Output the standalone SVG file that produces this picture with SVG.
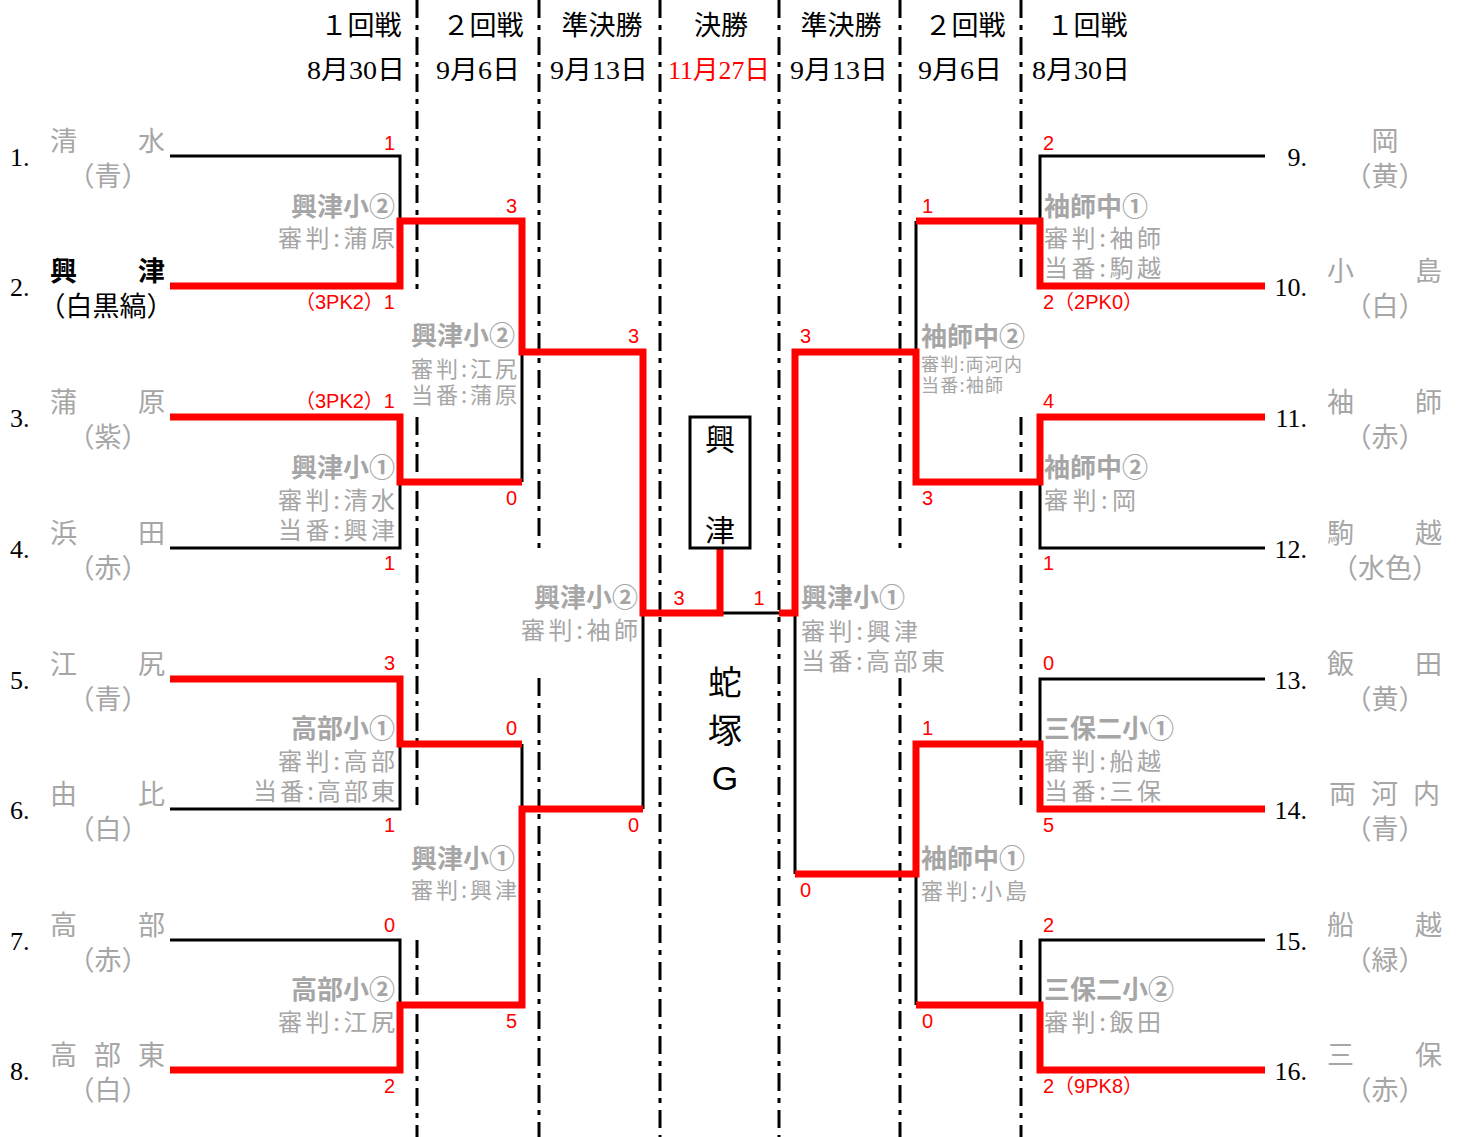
<svg xmlns="http://www.w3.org/2000/svg" width="1459" height="1137" viewBox="0 0 1459 1137">
<style>
.blk{stroke:#000;stroke-width:3;fill:none}
.red{stroke:#f00;stroke-width:7;fill:none;stroke-linejoin:miter}
.dash{stroke:#000;stroke-width:3;stroke-dasharray:18 7 5 7}
.sc{font-family:"Liberation Sans","Noto Sans CJK JP",sans-serif;font-size:20px;fill:#f00}
.nm{font-family:"Noto Sans CJK JP",sans-serif;font-size:27px;fill:#a6a6a6}
.nmb{font-family:"Noto Sans CJK JP",sans-serif;font-size:27px;fill:#000;font-weight:bold}
.pc{font-family:"Noto Sans CJK JP",sans-serif;font-size:27px;fill:#a6a6a6}
.pcb{font-family:"Noto Sans CJK JP",sans-serif;font-size:27px;fill:#000}
.num{font-family:"Liberation Serif",serif;font-size:26px;fill:#000}
.hd{font-family:"Noto Sans CJK JP",sans-serif;font-size:26px;font-weight:bold;fill:#a6a6a6}
.b1{font-family:"Noto Sans CJK JP",sans-serif;font-size:24px;fill:#a6a6a6}
.b2{font-family:"Noto Sans CJK JP",sans-serif;font-size:22px;fill:#a6a6a6}
.b3{font-family:"Noto Sans CJK JP",sans-serif;font-size:18px;fill:#a6a6a6}
.h1{font-family:"Liberation Serif","Noto Sans CJK JP",serif;font-size:27px;fill:#000}
.h2{font-family:"Liberation Serif","Noto Sans CJK JP",serif;font-size:26px;fill:#000}
.ctr{font-family:"Liberation Sans","Noto Sans CJK JP",sans-serif;font-size:34px;fill:#000}
.bx{font-family:"Noto Sans CJK JP",sans-serif;font-size:30px;fill:#000}
</style>
<rect x="0" y="0" width="1459" height="1137" fill="#fff"/>

<g id="grid">
<line class="dash" x1="417" y1="0" x2="417" y2="290"/>
<line class="dash" x1="417" y1="417" x2="417" y2="808"/>
<line class="dash" x1="417" y1="940" x2="417" y2="1137"/>
<line class="dash" x1="539" y1="0" x2="539" y2="550"/>
<line class="dash" x1="539" y1="678" x2="539" y2="1137"/>
<line class="dash" x1="660" y1="0" x2="660" y2="1137"/>
<line class="dash" x1="779" y1="0" x2="779" y2="1137"/>
<line class="dash" x1="900" y1="0" x2="900" y2="550"/>
<line class="dash" x1="900" y1="678" x2="900" y2="1137"/>
<line class="dash" x1="1021" y1="0" x2="1021" y2="280"/>
<line class="dash" x1="1021" y1="417" x2="1021" y2="808"/>
<line class="dash" x1="1021" y1="940" x2="1021" y2="1137"/>
</g>

<g id="header">
<text class="h1" x="361" y="35" text-anchor="middle">１回戦</text>
<text class="h1" x="483" y="35" text-anchor="middle">２回戦</text>
<text class="h1" x="602" y="35" text-anchor="middle">準決勝</text>
<text class="h1" x="721" y="35" text-anchor="middle">決勝</text>
<text class="h1" x="841" y="35" text-anchor="middle">準決勝</text>
<text class="h1" x="965" y="35" text-anchor="middle">２回戦</text>
<text class="h1" x="1087" y="35" text-anchor="middle">１回戦</text>
<text class="h2" x="356" y="79" text-anchor="middle" textLength="98" lengthAdjust="spacingAndGlyphs">8月30日</text>
<text class="h2" x="478" y="79" text-anchor="middle" textLength="84" lengthAdjust="spacingAndGlyphs">9月6日</text>
<text class="h2" x="599" y="79" text-anchor="middle" textLength="98" lengthAdjust="spacingAndGlyphs">9月13日</text>
<text class="h2" x="719" y="79" text-anchor="middle" textLength="102" lengthAdjust="spacingAndGlyphs" style="fill:#f00">11月27日</text>
<text class="h2" x="839" y="79" text-anchor="middle" textLength="98" lengthAdjust="spacingAndGlyphs">9月13日</text>
<text class="h2" x="960" y="79" text-anchor="middle" textLength="84" lengthAdjust="spacingAndGlyphs">9月6日</text>
<text class="h2" x="1081" y="79" text-anchor="middle" textLength="98" lengthAdjust="spacingAndGlyphs">8月30日</text>
</g>

<g id="connectors">
<path class="blk" d="M170 156 H400 V221"/>
<path class="blk" d="M522 352 V482"/>
<path class="blk" d="M170 548 H400 V482"/>
<path class="blk" d="M170 809 H400 V744"/>
<path class="blk" d="M522 744 V809"/>
<path class="blk" d="M170 940 H400 V1005"/>
<path class="blk" d="M643 613 V809"/>
<path class="blk" d="M720 613 H779"/>
<path class="blk" d="M1265 156 H1040 V221"/>
<path class="blk" d="M916 221 V352"/>
<path class="blk" d="M1265 548 H1040 V482"/>
<path class="blk" d="M1265 679 H1040 V744"/>
<path class="blk" d="M795 613 V874"/>
<path class="blk" d="M916 874 V1005"/>
<path class="blk" d="M1265 940 H1040 V1005"/>
<path class="red" d="M170 286 H400 V221 H522 V352 H643 V613 H720 V548"/>
<path class="red" d="M170 417 H400 V482 H522"/>
<path class="red" d="M170 679 H400 V744 H522"/>
<path class="red" d="M170 1070 H400 V1005 H522 V809 H643"/>
<path class="red" d="M779 613 H795 V352 H916 V482 H1040 V417 H1265"/>
<path class="red" d="M916 221 H1040 V286 H1265"/>
<path class="red" d="M795 874 H916 V744 H1040 V809 H1265"/>
<path class="red" d="M916 1005 H1040 V1070 H1265"/>
</g>

<g id="scores">
<text class="sc" x="395" y="150" text-anchor="end">1</text>
<text class="sc" x="395" y="309" text-anchor="end">（3PK2）1</text>
<text class="sc" x="395" y="408" text-anchor="end">（3PK2）1</text>
<text class="sc" x="395" y="570" text-anchor="end">1</text>
<text class="sc" x="395" y="670" text-anchor="end">3</text>
<text class="sc" x="395" y="832" text-anchor="end">1</text>
<text class="sc" x="395" y="932" text-anchor="end">0</text>
<text class="sc" x="395" y="1093" text-anchor="end">2</text>
<text class="sc" x="517" y="213" text-anchor="end">3</text>
<text class="sc" x="517" y="505" text-anchor="end">0</text>
<text class="sc" x="517" y="735" text-anchor="end">0</text>
<text class="sc" x="517" y="1028" text-anchor="end">5</text>
<text class="sc" x="639" y="343" text-anchor="end">3</text>
<text class="sc" x="639" y="832" text-anchor="end">0</text>
<text class="sc" x="679" y="605" text-anchor="middle">3</text>
<text class="sc" x="759" y="605" text-anchor="middle">1</text>
<text class="sc" x="800" y="343">3</text>
<text class="sc" x="800" y="897">0</text>
<text class="sc" x="922" y="213">1</text>
<text class="sc" x="922" y="505">3</text>
<text class="sc" x="922" y="735">1</text>
<text class="sc" x="922" y="1028">0</text>
<text class="sc" x="1043" y="150">2</text>
<text class="sc" x="1043" y="309">2（2PK0）</text>
<text class="sc" x="1043" y="408">4</text>
<text class="sc" x="1043" y="570">1</text>
<text class="sc" x="1043" y="670">0</text>
<text class="sc" x="1043" y="832">5</text>
<text class="sc" x="1043" y="932">2</text>
<text class="sc" x="1043" y="1093">2（9PK8）</text>
</g>

<g id="team1"><text class="num" x="10" y="166">1.</text><text class="nm" x="50" y="151" textLength="115" lengthAdjust="spacing">清水</text><text class="pc" x="108" y="186" text-anchor="middle">（青）</text></g>
<g id="team2"><text class="num" x="10" y="296">2.</text><text class="nmb" x="50" y="281" textLength="115" lengthAdjust="spacing">興津</text><text class="pcb" x="106" y="316" text-anchor="middle">（白黒縞）</text></g>
<g id="team3"><text class="num" x="10" y="427">3.</text><text class="nm" x="50" y="412" textLength="115" lengthAdjust="spacing">蒲原</text><text class="pc" x="108" y="447" text-anchor="middle">（紫）</text></g>
<g id="team4"><text class="num" x="10" y="558">4.</text><text class="nm" x="50" y="543" textLength="115" lengthAdjust="spacing">浜田</text><text class="pc" x="108" y="578" text-anchor="middle">（赤）</text></g>
<g id="team5"><text class="num" x="10" y="689">5.</text><text class="nm" x="50" y="674" textLength="115" lengthAdjust="spacing">江尻</text><text class="pc" x="108" y="709" text-anchor="middle">（青）</text></g>
<g id="team6"><text class="num" x="10" y="819">6.</text><text class="nm" x="50" y="804" textLength="115" lengthAdjust="spacing">由比</text><text class="pc" x="108" y="839" text-anchor="middle">（白）</text></g>
<g id="team7"><text class="num" x="10" y="950">7.</text><text class="nm" x="50" y="935" textLength="115" lengthAdjust="spacing">高部</text><text class="pc" x="108" y="970" text-anchor="middle">（赤）</text></g>
<g id="team8"><text class="num" x="10" y="1080">8.</text><text class="nm" x="50" y="1065" textLength="115" lengthAdjust="spacing">高部東</text><text class="pc" x="108" y="1100" text-anchor="middle">（白）</text></g>

<g id="team9"><text class="num" x="1307" y="166" text-anchor="end">9.</text><text class="nm" x="1385" y="151" text-anchor="middle">岡</text><text class="pc" x="1385" y="186" text-anchor="middle">（黄）</text></g>
<g id="team10"><text class="num" x="1307" y="296" text-anchor="end">10.</text><text class="nm" x="1327" y="281" textLength="115" lengthAdjust="spacing">小島</text><text class="pc" x="1385" y="316" text-anchor="middle">（白）</text></g>
<g id="team11"><text class="num" x="1307" y="427" text-anchor="end">11.</text><text class="nm" x="1327" y="412" textLength="115" lengthAdjust="spacing">袖師</text><text class="pc" x="1385" y="447" text-anchor="middle">（赤）</text></g>
<g id="team12"><text class="num" x="1307" y="558" text-anchor="end">12.</text><text class="nm" x="1327" y="543" textLength="115" lengthAdjust="spacing">駒越</text><text class="pc" x="1385" y="578" text-anchor="middle">（水色）</text></g>
<g id="team13"><text class="num" x="1307" y="689" text-anchor="end">13.</text><text class="nm" x="1327" y="674" textLength="115" lengthAdjust="spacing">飯田</text><text class="pc" x="1385" y="709" text-anchor="middle">（黄）</text></g>
<g id="team14"><text class="num" x="1307" y="819" text-anchor="end">14.</text><text class="nm" x="1329" y="804" textLength="111" lengthAdjust="spacing">両河内</text><text class="pc" x="1385" y="839" text-anchor="middle">（青）</text></g>
<g id="team15"><text class="num" x="1307" y="950" text-anchor="end">15.</text><text class="nm" x="1327" y="935" textLength="115" lengthAdjust="spacing">船越</text><text class="pc" x="1385" y="970" text-anchor="middle">（緑）</text></g>
<g id="team16"><text class="num" x="1307" y="1080" text-anchor="end">16.</text><text class="nm" x="1327" y="1065" textLength="115" lengthAdjust="spacing">三保</text><text class="pc" x="1385" y="1100" text-anchor="middle">（赤）</text></g>

<g id="m1"><text class="hd" x="395" y="216" text-anchor="end">興津小②</text><text class="b1" x="395" y="247" text-anchor="end" textLength="117" lengthAdjust="spacing">審判:蒲原</text></g>
<g id="m2"><text class="hd" x="395" y="477" text-anchor="end">興津小①</text><text class="b1" x="395" y="509" text-anchor="end" textLength="117" lengthAdjust="spacing">審判:清水</text><text class="b1" x="395" y="539" text-anchor="end" textLength="117" lengthAdjust="spacing">当番:興津</text></g>
<g id="m3"><text class="hd" x="395" y="738" text-anchor="end">高部小①</text><text class="b1" x="395" y="770" text-anchor="end" textLength="117" lengthAdjust="spacing">審判:高部</text><text class="b1" x="395" y="800" text-anchor="end" textLength="142" lengthAdjust="spacing">当番:高部東</text></g>
<g id="m4"><text class="hd" x="395" y="999" text-anchor="end">高部小②</text><text class="b1" x="395" y="1031" text-anchor="end" textLength="117" lengthAdjust="spacing">審判:江尻</text></g>
<g id="m5"><text class="hd" x="411" y="345">興津小②</text><text class="b2" x="411" y="377" textLength="106" lengthAdjust="spacing">審判:江尻</text><text class="b2" x="411" y="403" textLength="106" lengthAdjust="spacing">当番:蒲原</text></g>
<g id="m6"><text class="hd" x="411" y="868">興津小①</text><text class="b2" x="411" y="898" textLength="106" lengthAdjust="spacing">審判:興津</text></g>
<g id="m7"><text class="hd" x="638" y="607" text-anchor="end">興津小②</text><text class="b1" x="638" y="639" text-anchor="end" textLength="117" lengthAdjust="spacing">審判:袖師</text></g>
<g id="m8"><text class="hd" x="801" y="607">興津小①</text><text class="b1" x="801" y="640" textLength="117" lengthAdjust="spacing">審判:興津</text><text class="b1" x="801" y="670" textLength="144" lengthAdjust="spacing">当番:高部東</text></g>
<g id="m9"><text class="hd" x="921" y="346">袖師中②</text><text class="b3" x="921" y="371" textLength="101" lengthAdjust="spacing">審判:両河内</text><text class="b3" x="921" y="392" textLength="82" lengthAdjust="spacing">当番:袖師</text></g>
<g id="m10"><text class="hd" x="921" y="868">袖師中①</text><text class="b2" x="921" y="899" textLength="106" lengthAdjust="spacing">審判:小島</text></g>
<g id="m11"><text class="hd" x="1044" y="216">袖師中①</text><text class="b1" x="1044" y="247" textLength="117" lengthAdjust="spacing">審判:袖師</text><text class="b1" x="1044" y="277" textLength="117" lengthAdjust="spacing">当番:駒越</text></g>
<g id="m12"><text class="hd" x="1044" y="477">袖師中②</text><text class="b1" x="1044" y="509" textLength="92" lengthAdjust="spacing">審判:岡</text></g>
<g id="m13"><text class="hd" x="1044" y="738">三保二小①</text><text class="b1" x="1044" y="770" textLength="117" lengthAdjust="spacing">審判:船越</text><text class="b1" x="1044" y="800" textLength="117" lengthAdjust="spacing">当番:三保</text></g>
<g id="m14"><text class="hd" x="1044" y="999">三保二小②</text><text class="b1" x="1044" y="1031" textLength="117" lengthAdjust="spacing">審判:飯田</text></g>

<g id="champion">
<rect x="690" y="417" width="60" height="131" fill="#fff" stroke="#000" stroke-width="3"/>
<text class="bx" x="720" y="450" text-anchor="middle">興</text>
<text class="bx" x="720" y="541" text-anchor="middle">津</text>
</g>
<g id="venue">
<text class="ctr" x="725" y="695" text-anchor="middle">蛇</text>
<text class="ctr" x="725" y="743" text-anchor="middle">塚</text>
<text class="ctr" x="725" y="790" text-anchor="middle">G</text>
</g>
</svg>
